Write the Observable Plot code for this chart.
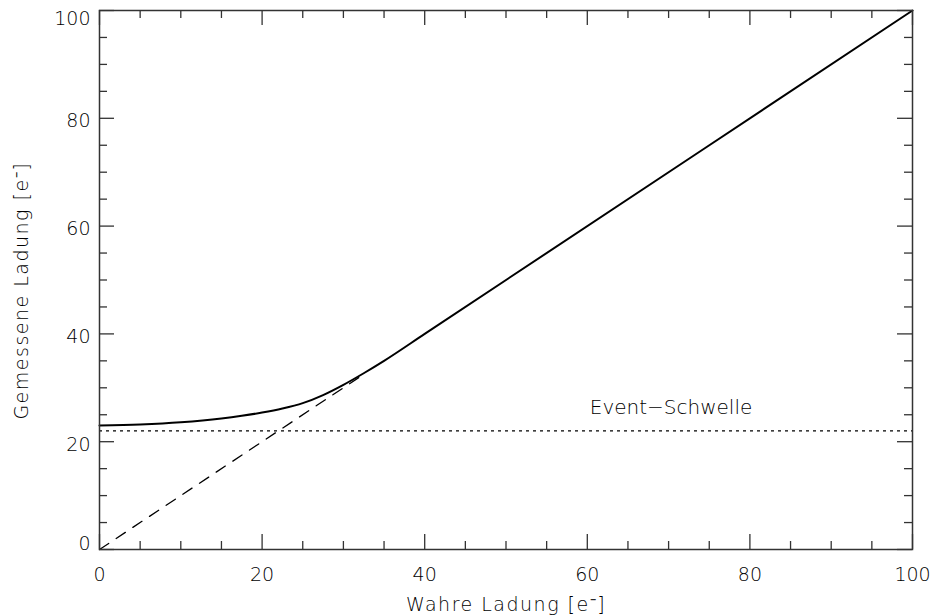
<!DOCTYPE html>
<html>
<head>
<meta charset="utf-8">
<script src="https://cdn.jsdelivr.net/npm/d3@7"></script>
<script src="https://cdn.jsdelivr.net/npm/@observablehq/plot@0.6"></script>
<style>
  html, body { margin: 0; padding: 0; background: #fff; }
  svg { display: block; }
</style>
</head>
<body>
<div id="chart"></div>
<script>
const trueCharge     = [0, 5, 10, 15, 17.5, 20, 22.5, 25, 27.5, 30, 32.5, 35, 40, 100];
const measuredCharge = [23.0, 23.2, 23.6, 24.3, 24.8, 25.4, 26.15, 27.15, 28.65, 30.55, 32.7, 35.0, 40.0, 100];

// ideal line y = x (dashed), shown up to where it merges
const idealX = [0, 32];
const idealY = [0, 32];

// event threshold (dotted)
const threshold = [22];
const thresholdLabel = ["Event\u2212Schwelle"];
const thresholdLabelX = [70.3];
const thresholdLabelY = [26.3];

const majorTicks = [0, 20, 40, 60, 80, 100];
const minorTicks = [5, 10, 15, 25, 30, 35, 45, 50, 55, 65, 70, 75, 85, 90, 95];

const xTitle = "Wahre Ladung [e\u207B]";
const yTitle = "Gemessene Ladung [e\u207B]";
// title anchor positions (in data units, outside the frame)
const xTitlePos = [50, -10.2];
const yTitlePos = [-9.5, 48];

const curveData = trueCharge.map((x, i) => ({x, y: measuredCharge[i]}));
const idealData = idealX.map((x, i) => ({x, y: idealY[i]}));
const labelData = thresholdLabel.map((t, i) => ({t, x: thresholdLabelX[i], y: thresholdLabelY[i]}));

const W = 933, H = 616;
const mt = 10, mb = 67, ml = 99, mr = 21;
const fh = H - mt - mb, fw = W - ml - mr;
const majorLen = 15, minorLen = 8;
const axisColor = "#333";
const font = "DejaVu Sans, sans-serif";
const txt = "#000";
const fw8 = 300;

const chart = Plot.plot({
  width: W,
  height: H,
  marginTop: mt,
  marginBottom: mb,
  marginLeft: ml,
  marginRight: mr,
  style: {fontFamily: font, background: "#fff"},
  x: {domain: [0, 100], axis: null},
  y: {domain: [0, 100], axis: null},
  marks: [
    // inward ticks: bottom & top
    Plot.tickX(majorTicks, {x: d => d, insetTop: fh - majorLen, stroke: axisColor, strokeWidth: 1.3}),
    Plot.tickX(majorTicks, {x: d => d, insetBottom: fh - majorLen, stroke: axisColor, strokeWidth: 1.3}),
    Plot.tickX(minorTicks, {x: d => d, insetTop: fh - minorLen, stroke: axisColor, strokeWidth: 1.3}),
    Plot.tickX(minorTicks, {x: d => d, insetBottom: fh - minorLen, stroke: axisColor, strokeWidth: 1.3}),
    // inward ticks: left & right
    Plot.tickY(majorTicks, {y: d => d, insetRight: fw - majorLen, stroke: axisColor, strokeWidth: 1.3}),
    Plot.tickY(majorTicks, {y: d => d, insetLeft: fw - majorLen, stroke: axisColor, strokeWidth: 1.3}),
    Plot.tickY(minorTicks, {y: d => d, insetRight: fw - minorLen, stroke: axisColor, strokeWidth: 1.3}),
    Plot.tickY(minorTicks, {y: d => d, insetLeft: fw - minorLen, stroke: axisColor, strokeWidth: 1.3}),

    // threshold
    Plot.ruleY(threshold, {stroke: "#000", strokeWidth: 1.3, strokeDasharray: "3,4"}),
    // ideal y = x
    Plot.line(idealData, {x: "x", y: "y", stroke: "#000", strokeWidth: 1.3, strokeDasharray: "11,9"}),
    // measured curve
    Plot.line(curveData, {x: "x", y: "y", stroke: "#000", strokeWidth: 2, curve: "monotone-x"}),

    Plot.text(labelData, {x: "x", y: "y", text: "t", fontSize: 20, fontWeight: fw8, fill: txt, style: "letter-spacing:0.2px"}),

    // x tick labels
    Plot.text(majorTicks, {x: d => d, frameAnchor: "bottom", dy: 31, text: d => String(d), fontSize: 19, fontWeight: fw8, fill: txt}),
    // y tick labels
    Plot.text([0], {y: d => d, frameAnchor: "left", dx: -9, dy: -6, textAnchor: "end", text: d => String(d), fontSize: 19, fontWeight: fw8, fill: txt}),
    Plot.text([20, 40, 60, 80], {y: d => d, frameAnchor: "left", dx: -9, dy: 3, textAnchor: "end", text: d => String(d), fontSize: 19, fontWeight: fw8, fill: txt}),
    Plot.text([100], {y: d => d, frameAnchor: "left", dx: -9, dy: 8, textAnchor: "end", text: d => String(d), fontSize: 19, fontWeight: fw8, fill: txt}),

    // axis titles
    Plot.text([xTitle], {x: () => xTitlePos[0], y: () => xTitlePos[1], text: d => d, fontSize: 19, fontWeight: fw8, fill: txt}),
    Plot.text([yTitle], {x: () => yTitlePos[0], y: () => yTitlePos[1], rotate: -90, text: d => d, fontSize: 19, fontWeight: fw8, fill: txt}),

    Plot.frame({stroke: axisColor, strokeWidth: 1.5})
  ]
});

// wider letter spacing on axis titles, like the reference's stroke font
chart.querySelectorAll("text").forEach(t => {
  const s = t.textContent;
  if (s === xTitle || s === yTitle) t.setAttribute("letter-spacing", "1.5");
});

document.getElementById("chart").appendChild(chart);
</script>
</body>
</html>
